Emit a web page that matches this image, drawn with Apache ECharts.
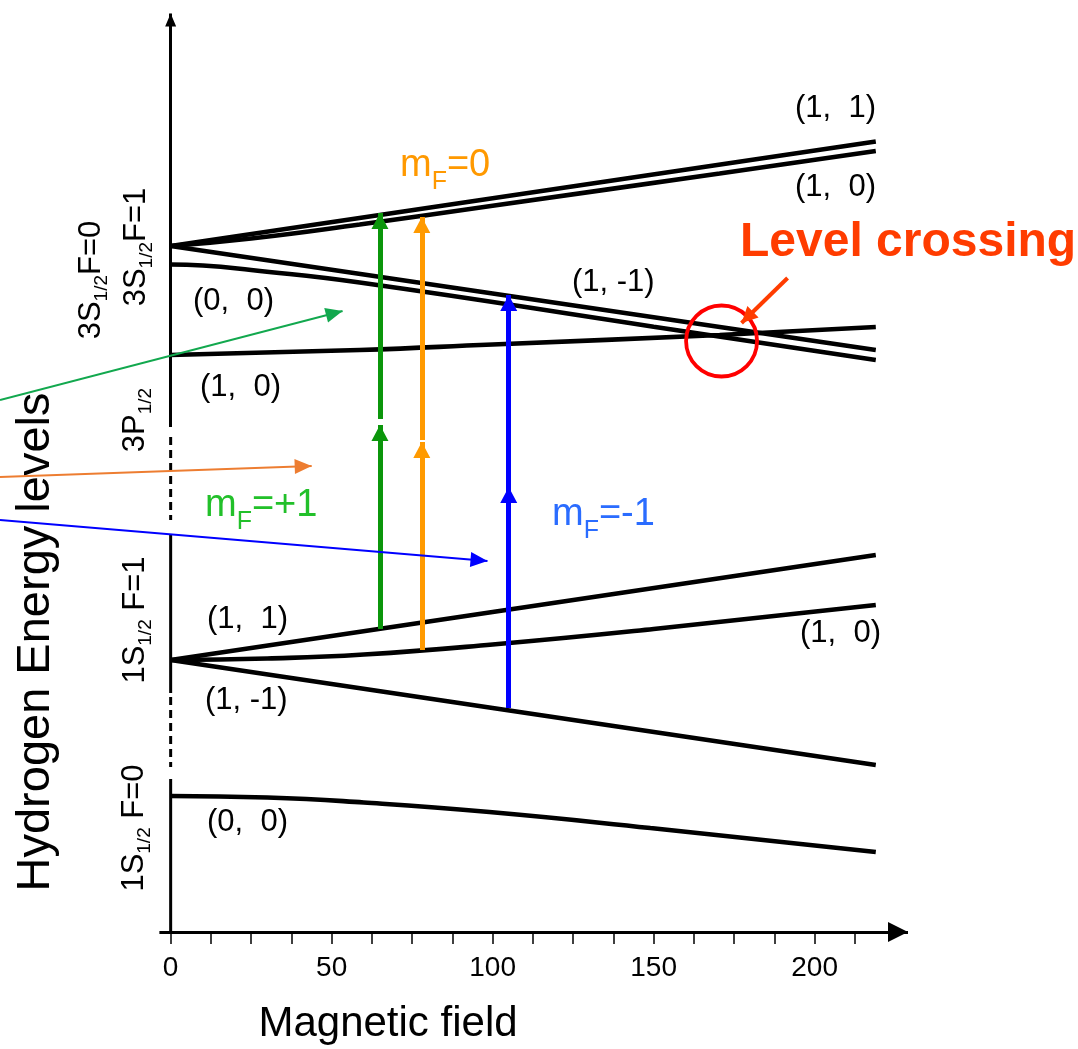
<!DOCTYPE html>
<html><head><meta charset="utf-8">
<script src="https://cdn.jsdelivr.net/npm/echarts@6/dist/echarts.min.js"></script>
<style>html,body{margin:0;padding:0;background:#fff}#c{width:1078px;height:1049px}</style>
</head><body><div id="c"></div>
<script>
// ---------------- data ----------------
const fieldTicks = [0,12.5,25,37.5,50,62.5,75,87.5,100,112.5,125,137.5,150,162.5,175,187.5,200,212.5];
const fieldLabels = [0,50,100,150,200];

// energy levels: [magnetic field, energy (arb. units)]
const s3_F1_mp1 = [[0,68.6],[100,73.37],[219,79.05]];
const s3_F1_m0  = [[0,68.6],[25,69.35],[58.7,70.75],[100,72.63],[170.5,75.85],[219,78.1]];
const s3_F1_mm1 = [[0,68.6],[100,63.85],[219,58.2]];
const s3_F0_m0  = [[0,66.75],[10,66.65],[25,66.2],[58.7,64.95],[150,60.53],[219,57.2]];
const p3_m0     = [[0,57.7],[58.7,58.2],[100,58.75],[170.5,59.7],[219,60.5]];
const s1_F1_mp1 = [[0,27.2],[100,32.0],[219,37.7]];
const s1_F1_m0  = [[0,27.2],[30,27.35],[60,27.75],[100,28.75],[150,30.3],[219,32.7]];
const s1_F1_mm1 = [[0,27.2],[100,22.4],[219,16.7]];
const s1_F0_m0  = [[0,13.6],[30,13.45],[60,12.95],[99,12.0],[149,10.4],[219,8.0]];

// two-photon transitions (field, lower arrow [from,to], upper arrow [from,to])
const transField = [65, 78, 105];
const transLower = [[30.3,50.7],[28.2,49.0],[22.4,44.5]];
const transUpper = [[51.3,71.9],[49.2,71.5],[44.5,63.7]];
const transColor = ['#0b960b','#ff9a00','#0000ff'];

// pointer arrows coming from the left
const pointerFrom = [[-53,53.2],[-53,45.5],[-53,41.2]];
const pointerTo   = [[53.4,62.1],[43.8,46.6],[98.4,37.1]];
const pointerColor = ['#12a84e','#ed7d31','#0000ff'];

// level crossing marker
const crossingPoint = [171.1,59.1];
const crossingArrow = [[191.6,65.4],[177.3,60.9]];

// vertical energy axis pieces (field = 0)
const yAxisSolid  = [[0,15.3],[23.9,39.7]];
const yAxisDashed = [[23.5,16.5],[49.5,41.2]];
const yAxisTop    = [50.5,91.85];
const xAxisSpan   = [-3.5,229];

// ---------------- chart ----------------
const FF = '"Liberation Sans", Arial, sans-serif';
const ARROW = 'path://M0,-1L0,-0.999M0,0L0.5,1L-0.5,1Z';

function levelSeries(data, smooth){
  return {type:'line', data, smooth: smooth ? 0.5 : false, showSymbol:false, symbol:'none', silent:true,
    lineStyle:{color:'#000', width:4.6}, z:3};
}
function seg(data, dashed){
  return {type:'line', data, showSymbol:false, symbol:'none', silent:true,
    lineStyle:{color:'#000', width:3, type: dashed ? [8,5] : 'solid'}, z:3};
}
function arrowItem(from, to, color, width, size){
  return [
    {coord:from, symbol:'none', lineStyle:{color, width, type:'solid'}},
    {coord:to, symbol:ARROW, symbolSize:size, itemStyle:{color}}
  ];
}

const marks = [];
marks.push(arrowItem([xAxisSpan[0],0],[xAxisSpan[1],0],'#000',3,[20,40]));
marks.push(arrowItem([0,yAxisTop[0]],[0,yAxisTop[1]],'#000',3,[11,26]));
transField.forEach((b,i)=>{
  marks.push(arrowItem([b,transLower[i][0]],[b,transLower[i][1]],transColor[i],5,[17,32]));
  marks.push(arrowItem([b,transUpper[i][0]],[b,transUpper[i][1]],transColor[i],5,[17,32]));
});
const marks2 = [];
pointerFrom.forEach((p,i)=>{
  marks2.push(arrowItem(p,pointerTo[i],pointerColor[i],2,[15,34]));
});
marks2.push(arrowItem(crossingArrow[0],crossingArrow[1],'#ff3c00',4,[16,32]));

const series = [
  levelSeries(s3_F1_mp1,false),
  levelSeries(s3_F1_m0,true),
  levelSeries(s3_F1_mm1,false),
  levelSeries(s3_F0_m0,true),
  levelSeries(p3_m0,true),
  levelSeries(s1_F1_mp1,false),
  levelSeries(s1_F1_m0,true),
  levelSeries(s1_F1_mm1,false),
  levelSeries(s1_F0_m0,true),
  seg([[0,yAxisSolid[0][0]],[0,yAxisSolid[0][1]]],false),
  seg([[0,yAxisSolid[1][0]],[0,yAxisSolid[1][1]]],false),
  seg([[0,yAxisDashed[0][0]],[0,yAxisDashed[0][1]]],true),
  seg([[0,yAxisDashed[1][0]],[0,yAxisDashed[1][1]]],true),
  {type:'scatter', data:[crossingPoint], symbol:'circle', symbolSize:71, silent:true, z:4,
    itemStyle:{color:'rgba(0,0,0,0)', borderColor:'#ff0000', borderWidth:3.8, opacity:1}},
  {type:'line', data:[], silent:true,
    markLine:{silent:true, symbol:['none','none'], label:{show:false}, emphasis:{disabled:true}, animation:false, data:marks}},
  {type:'line', data:[], silent:true,
    markLine:{silent:true, z:6, symbol:['none','none'], label:{show:false}, emphasis:{disabled:true}, animation:false, data:marks2}}
];

function rotLabel(x,y,text){
  return {type:'text', x, y, rotation:Math.PI/2, z:1, silent:true,
    style:{text, align:'center', verticalAlign:'middle',
      rich:{a:{fontSize:31,fontFamily:FF,fill:'#000',lineHeight:36},
            s:{fontSize:19,fontFamily:FF,fill:'#000',height:14,verticalAlign:'bottom'}}}};
}
function mfLabel(x,y,text,color){
  return {type:'text', x, y, z:1, silent:true,
    style:{text, align:'left', verticalAlign:'middle',
      rich:{a:{fontSize:38,fontFamily:FF,fill:color,lineHeight:46},
            s:{fontSize:25,fontFamily:FF,fill:color,height:14,verticalAlign:'bottom'}}}};
}
function plain(x,y,text,size,align,extra){
  return Object.assign({type:'text', x, y, z:1, silent:true,
    style:{text, fontSize:size, fontFamily:FF, fill:'#000', align:align||'left', verticalAlign:'middle'}}, extra||{});
}

const graphic = [
  rotLabel(91,280,'{a|3S}{s|1/2}{a|F=0}'),
  rotLabel(136,247,'{a|3S}{s|1/2}{a|F=1}'),
  rotLabel(135,420,'{a|3P}{s|1/2}'),
  rotLabel(135,620,'{a|1S}{s|1/2}{a| F=1}'),
  rotLabel(134,828,'{a|1S}{s|1/2}{a| F=0}'),
  {type:'text', x:36, y:642, rotation:Math.PI/2, z:1, silent:true,
    style:{text:'Hydrogen Energy levels', fontSize:47, fontFamily:FF, fill:'#000', align:'center', verticalAlign:'middle'}},
  plain(388,1024,'Magnetic field',42,'center'),
  mfLabel(400,166,'{a|m}{s|F}{a|=0}','#ff9900'),
  mfLabel(205,506,'{a|m}{s|F}{a|=+1}','#22c02a'),
  mfLabel(552,515,'{a|m}{s|F}{a|=-1}','#2a6cff'),
  {type:'text', x:740, y:243, z:1, silent:true,
    style:{text:'Level crossing', fontSize:48, fontWeight:'bold', fontFamily:FF, fill:'#ff3c00', align:'left', verticalAlign:'middle'}},
  plain(876,108,'(1,  1)',31,'right'),
  plain(876,187,'(1,  0)',31,'right'),
  plain(193,301,'(0,  0)',31,'left'),
  plain(572,282,'(1, -1)',31,'left'),
  plain(200,387,'(1,  0)',31,'left'),
  plain(207,619,'(1,  1)',31,'left'),
  plain(800,633,'(1,  0)',31,'left'),
  plain(205,700,'(1, -1)',31,'left'),
  plain(207,822,'(0,  0)',31,'left')
];

const chart = echarts.init(document.getElementById('c'), null, {renderer:'canvas'});
chart.setOption({
  animation:false,
  backgroundColor:'#fff',
  grid:{left:0, right:170, top:12, bottom:117},
  xAxis:{type:'value', min:-53, max:229,
    axisLine:{show:false}, splitLine:{show:false},
    axisTick:{show:true, customValues:fieldTicks, length:12, lineStyle:{color:'#000', width:1.5}},
    axisLabel:{customValues:fieldLabels, fontSize:28, color:'#000', margin:22, fontFamily:FF}},
  yAxis:{type:'value', min:0, max:92, show:false},
  series,
  graphic
});
</script></body></html>
